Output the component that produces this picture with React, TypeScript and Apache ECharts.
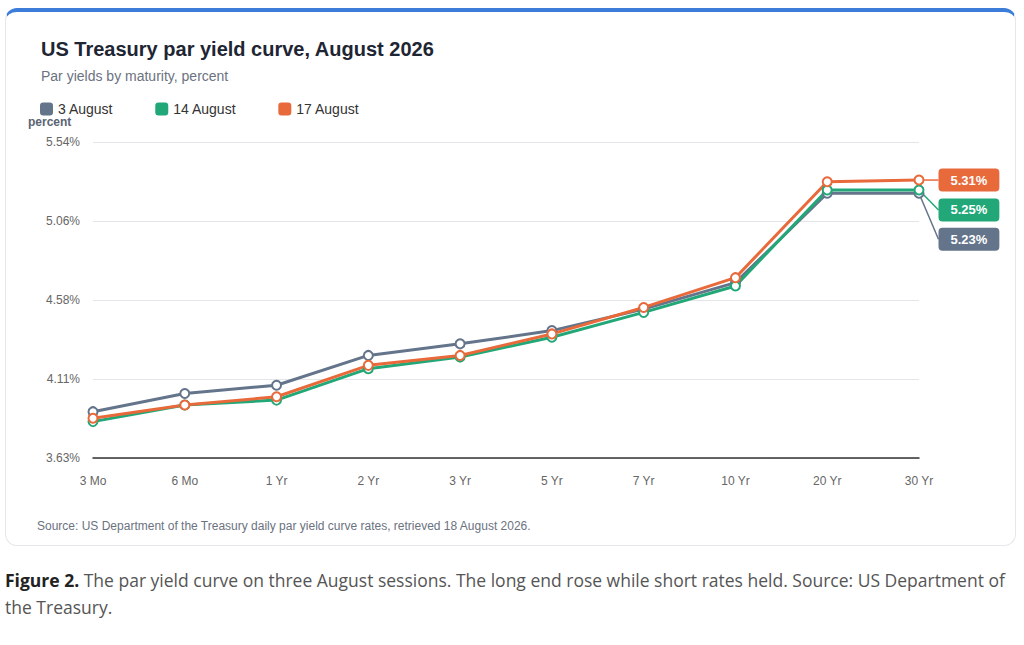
import React, { useEffect, useRef } from "react";
import * as echarts from "echarts";

const categories = ["3 Mo", "6 Mo", "1 Yr", "2 Yr", "3 Yr", "5 Yr", "7 Yr", "10 Yr", "20 Yr", "30 Yr"];
const aug3 = [3.91, 4.02, 4.07, 4.25, 4.32, 4.40, 4.53, 4.69, 5.23, 5.23];
const aug14 = [3.85, 3.95, 3.98, 4.17, 4.24, 4.36, 4.51, 4.67, 5.25, 5.25];
const aug17 = [3.87, 3.95, 4.00, 4.19, 4.25, 4.38, 4.54, 4.72, 5.30, 5.31];
const tickLabels = ["3.63%", "4.11%", "4.58%", "5.06%", "5.54%"];
const yMin = 3.63;
const yMax = 5.54;

const seriesDefs = [
  { name: "3 August", data: aug3, color: "#64748b", dy: 46 },
  { name: "14 August", data: aug14, color: "#22a878", dy: 20 },
  { name: "17 August", data: aug17, color: "#e8693a", dy: 0 },
];

export default function App() {
  const ref = useRef<HTMLDivElement>(null);
  useEffect(() => {
    const chart = echarts.init(ref.current!, undefined, { renderer: "svg" });
    const interval = (yMax - yMin) / 4;
    chart.setOption({
      animation: false,
      textStyle: { fontFamily: "'Liberation Sans', Arial, sans-serif" },
      title: {
        text: "US Treasury par yield curve, August 2026",
        subtext: "Par yields by maturity, percent",
        left: 36,
        top: 34,
        itemGap: 10,
        textStyle: { fontSize: 20, fontWeight: "bold", color: "#1e2533" },
        subtextStyle: { fontSize: 14, color: "#6b7280" },
      },
      legend: {
        left: 35,
        top: 97,
        icon: "roundRect",
        itemWidth: 13,
        itemHeight: 13,
        itemGap: 42,
        textStyle: { fontSize: 14, color: "#333" },
        data: seriesDefs.map((s) => ({ name: s.name, itemStyle: { color: s.color, borderWidth: 0 } })),
      },
      graphic: [
        { type: "text", left: 28, top: 116, style: { text: "percent", fontSize: 12, fontWeight: "bold", fill: "#5b6474", fontFamily: "'Liberation Sans', Arial, sans-serif" } },
        {
          type: "text", left: 37, top: 520,
          style: { text: "Source: US Department of the Treasury daily par yield curve rates, retrieved 18 August 2026.", fontSize: 12, fill: "#6b7280", fontFamily: "'Liberation Sans', Arial, sans-serif" },
        },
      ],
      grid: { left: 93, right: 105, top: 142, height: 316 },
      xAxis: {
        type: "category",
        data: categories,
        boundaryGap: false,
        axisLine: { lineStyle: { color: "#333", width: 1.5 } },
        axisTick: { show: false },
        axisLabel: { color: "#666", fontSize: 12, margin: 17 },
      },
      yAxis: {
        type: "value",
        min: yMin,
        max: yMax,
        interval,
        axisLine: { show: false },
        axisTick: { show: false },
        splitLine: { lineStyle: { color: "#e3e5e8" } },
        axisLabel: {
          color: "#666",
          fontSize: 12,
          margin: 13,
          formatter: (v: number) => tickLabels[Math.round((v - yMin) / interval)] ?? "",
        },
      },
      series: seriesDefs.map((s) => ({
        name: s.name,
        type: "line",
        color: s.color,
        symbol: "circle",
        symbolSize: 9,
        lineStyle: { width: 3, color: s.color },
        itemStyle: { color: "#fff", borderColor: s.color, borderWidth: 2 },
        labelLine: { show: true, lineStyle: { color: s.color, width: 1.5 } },
        labelLayout: { dy: s.dy },
        data: s.data.map((v, i) =>
          i === s.data.length - 1
            ? {
                value: v,
                label: {
                  show: true,
                  position: "right",
                  distance: 14,
                  formatter: (p: any) => p.value.toFixed(2) + "%",
                  backgroundColor: s.color,
                  color: "#fff",
                  fontWeight: "bold",
                  fontSize: 13,
                  padding: [5, 12],
                  borderRadius: 4,
                },
              }
            : v
        ),
      })),
    });
    return () => chart.dispose();
  }, []);
  return (
    <div style={{ position: "absolute", left: 0, top: 0, width: 1024, height: 645, background: "#fff" }}>
      <div
        style={{
          position: "absolute", left: 5, top: 8, width: 1011, height: 538,
          border: "1px solid #e5e7eb", borderTop: "4px solid #3b7dd8", borderRadius: 12, boxSizing: "border-box",
        }}
      />
      <div ref={ref} style={{ position: "absolute", left: 0, top: 0, width: 1024, height: 550 }} />
      <div
        style={{
          position: "absolute", left: 5, top: 567, width: 1015, fontSize: 17.5, lineHeight: "27px",
          color: "#555", fontFamily: "'Open Sans', 'Noto Sans', sans-serif",
        }}
      >
        <b style={{ color: "#222" }}>Figure 2.</b> The par yield curve on three August sessions. The long end rose while short rates held. Source: US Department of the Treasury.
      </div>
    </div>
  );
}
